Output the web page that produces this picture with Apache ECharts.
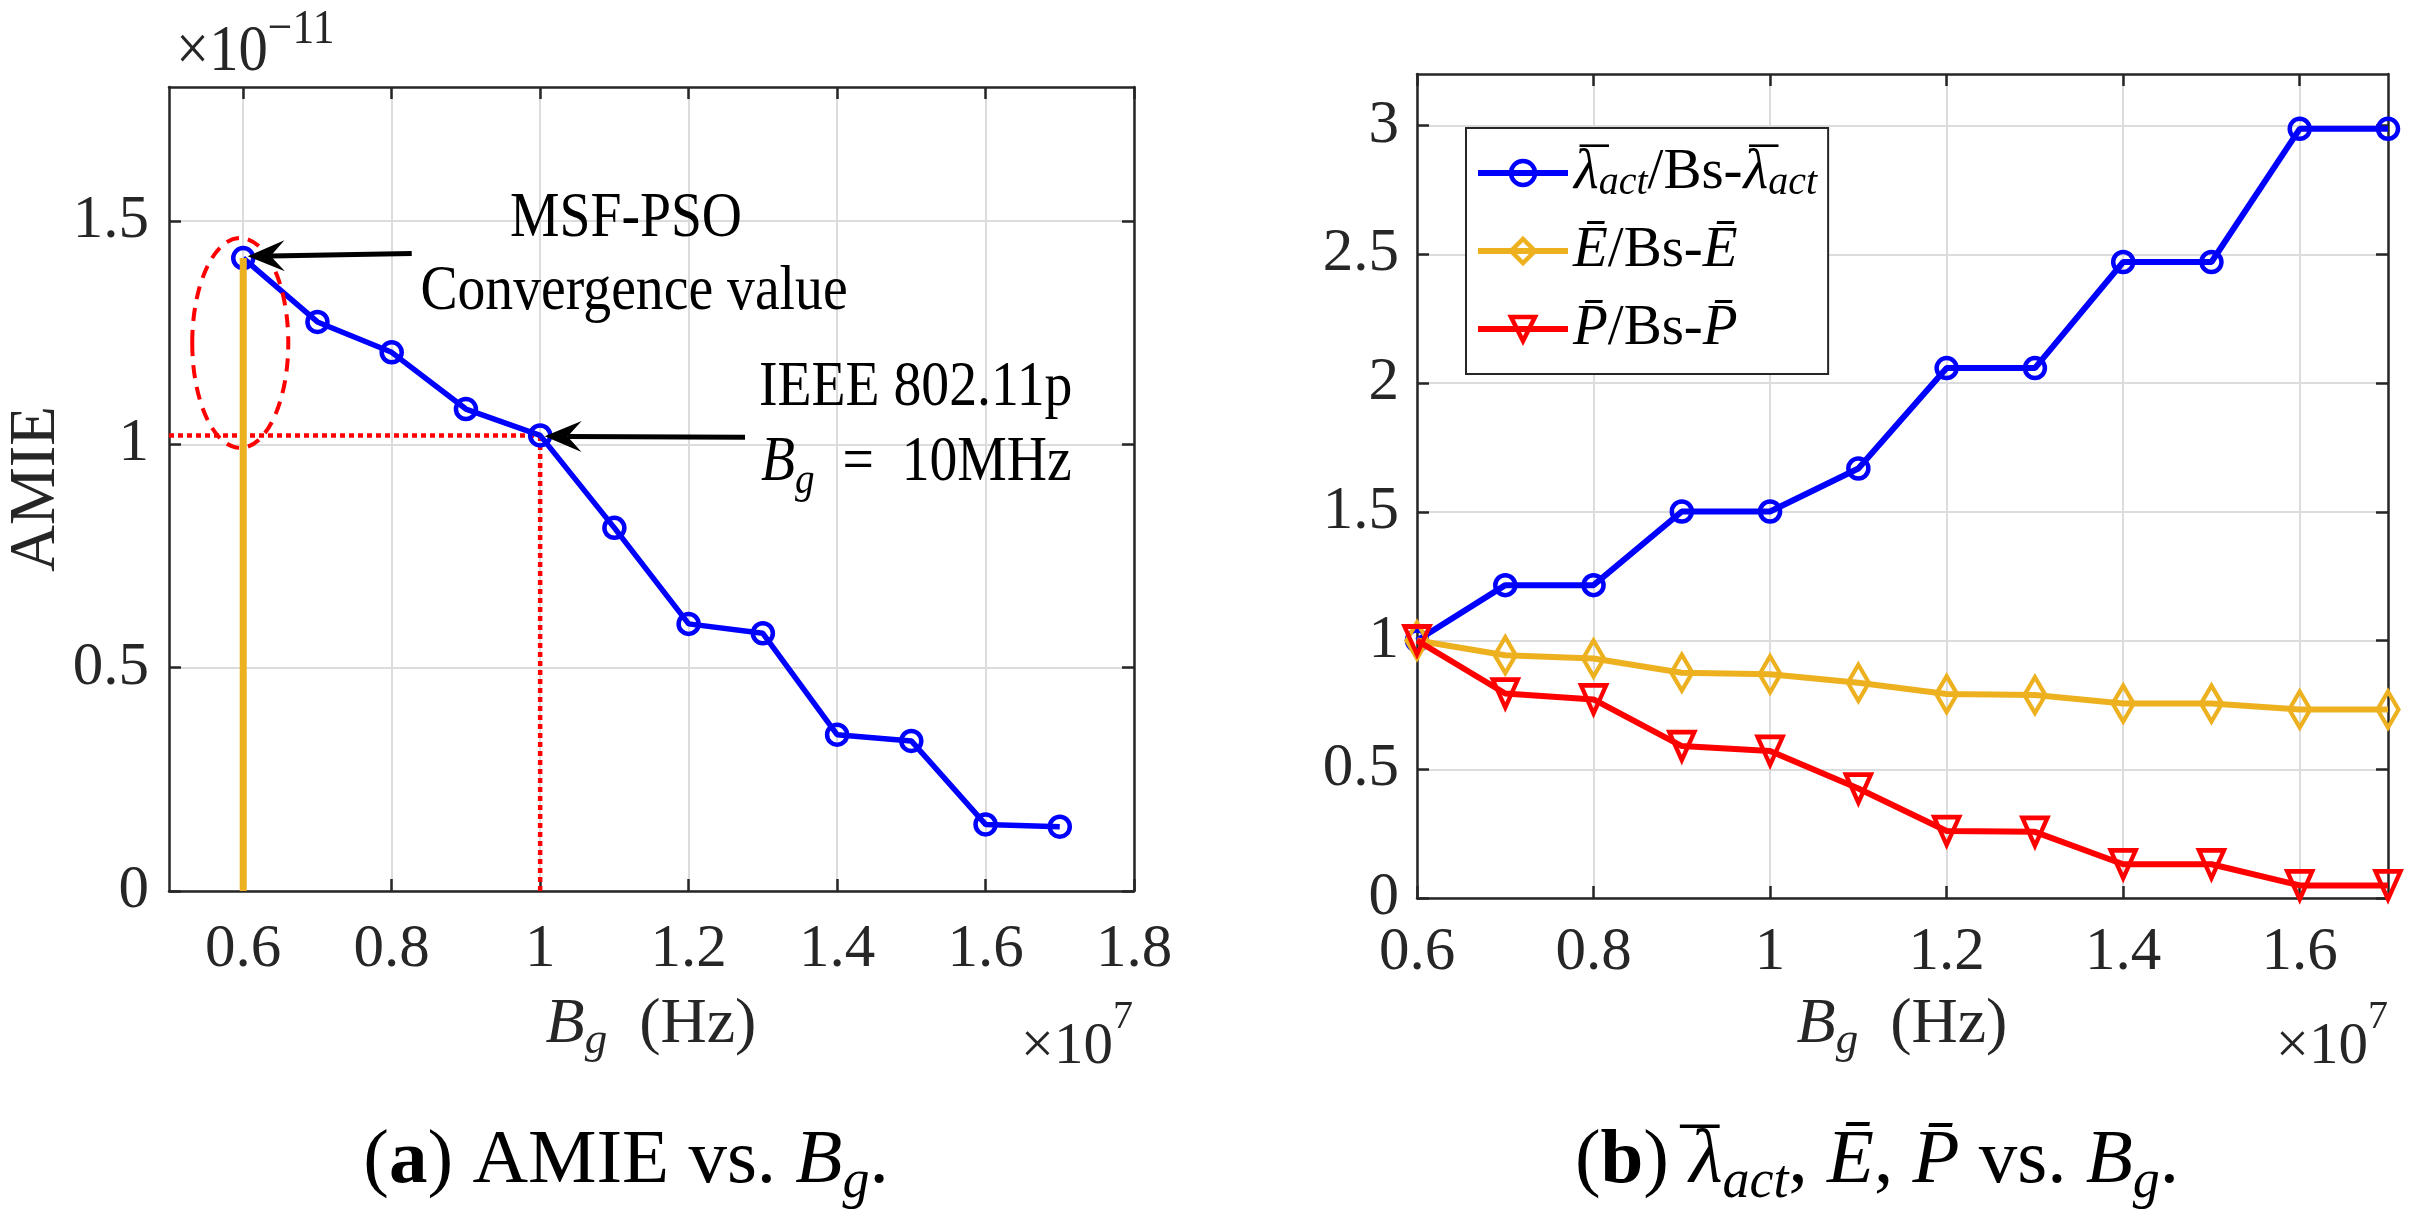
<!DOCTYPE html>
<html><head><meta charset="utf-8">
<script src="https://cdn.jsdelivr.net/npm/echarts@6/dist/echarts.min.js"></script>
<style>html,body{margin:0;padding:0;background:#fff}#c{width:2416px;height:1227px}</style>
</head><body><div id="c"></div>
<script>
// ---------- data ----------
const bandwidth   = [0.6, 0.7, 0.8, 0.9, 1.0, 1.1, 1.2, 1.3, 1.4, 1.5, 1.6, 1.7];   // x 1e7 Hz
const amie        = [1.417, 1.274, 1.206, 1.079, 1.020, 0.813, 0.598, 0.577, 0.350, 0.336, 0.149, 0.144]; // x 1e-11
const lambdaRatio = [1.000, 1.215, 1.215, 1.501, 1.501, 1.668, 2.058, 2.058, 2.470, 2.470, 2.987, 2.987];
const energyRatio = [1.000, 0.943, 0.930, 0.875, 0.869, 0.836, 0.792, 0.788, 0.755, 0.755, 0.732, 0.732];
const powerRatio  = [1.000, 0.794, 0.771, 0.590, 0.571, 0.425, 0.260, 0.257, 0.131, 0.131, 0.049, 0.049];
const xTicksA = [0.6, 0.8, 1.0, 1.2, 1.4, 1.6, 1.8];
const yTicksA = [0, 0.5, 1.0, 1.5];
const xTicksB = [0.6, 0.8, 1.0, 1.2, 1.4, 1.6];
const yTicksB = [0, 0.5, 1.0, 1.5, 2.0, 2.5, 3.0];
const ieeePoint = [1.0, 1.02];          // IEEE 802.11p reference (Bg = 10 MHz)
const msfBandwidth = 0.6;               // MSF-PSO convergence bandwidth
const arrowMsf  = [[0.827, 1.427], [0.606, 1.421]];  // tail, tip (data units)
const arrowIeee = [[1.276, 1.016], [1.006, 1.018]];
const ellipseCenter = [0.596, 1.227];
const ellipseRadii  = [0.0647, 0.235];
const seriesNames = ['\u03BB\u0304act/Bs-\u03BB\u0304act', 'E\u0304/Bs-E\u0304', 'P\u0304/Bs-P\u0304'];

// ---------- styles ----------
const serif = '"Liberation Serif", "Times New Roman", Times, serif';
const axisColor = '#262626';
const gridColor = '#dcdcdc';
const fmt = v => String(Math.round(v * 10) / 10);
const zip = (xs, ys) => xs.map((x, i) => [x, ys[i]]);

function axisDef(grid, min, max, ticks, pos, labels, margin) {
  return {
    type: 'value', gridIndex: grid, min, max, position: pos,
    axisLine: { show: true, onZero: false, lineStyle: { color: axisColor, width: 2.5 } },
    axisTick: { show: true, inside: true, length: 12, customValues: ticks, lineStyle: { color: axisColor, width: 2.5 } },
    axisLabel: { show: labels, customValues: ticks, formatter: fmt, fontFamily: serif, fontSize: 61, color: axisColor, margin },
    splitLine: { show: labels, lineStyle: { color: gridColor, width: 2 } }
  };
}

const option = {
  animation: false,
  backgroundColor: '#fff',
  textStyle: { fontFamily: serif },
  grid: [
    { left: 169, top: 87, width: 965, height: 804, containLabel: false, outerBoundsMode: 'none' },
    { left: 1417, top: 74, width: 971, height: 824, containLabel: false, outerBoundsMode: 'none' }
  ],
  xAxis: [
    axisDef(0, 0.5, 1.8, xTicksA, 'bottom', true, 28),
    axisDef(0, 0.5, 1.8, xTicksA, 'top', false, 8),
    axisDef(1, 0.6, 1.7, xTicksB, 'bottom', true, 24),
    axisDef(1, 0.6, 1.7, xTicksB, 'top', false, 8)
  ],
  yAxis: [
    axisDef(0, 0, 1.8, yTicksA, 'left', true, 20),
    axisDef(0, 0, 1.8, yTicksA, 'right', false, 8),
    axisDef(1, 0, 3.2, yTicksB, 'left', true, 18),
    axisDef(1, 0, 3.2, yTicksB, 'right', false, 8)
  ],
  legend: {
    show: true, orient: 'vertical', left: 1466, top: 128,
    padding: [15, 11, 15, 9], itemGap: 18, itemWidth: 90, itemHeight: 30,
    backgroundColor: '#fff', borderColor: axisColor, borderWidth: 2, borderRadius: 0,
    selectedMode: false, data: seriesNames,
    itemStyle: { borderWidth: 4.5 }, lineStyle: { width: 6 },
    formatter: function (name) {
      if (name === seriesNames[0]) return '{mac|\u00AF}{mi|\u03BB}{sb|act}{rm|/Bs-}{mac|\u00AF}{mi|\u03BB}{sb|act}';
      if (name === seriesNames[1]) return '{mi|E\u0304}{rm|/Bs-}{mi|E\u0304}';
      return '{mi|P\u0304}{rm|/Bs-}{mi|P\u0304}';
    },
    textStyle: {
      fontFamily: serif, fontSize: 57, color: '#000', lineHeight: 60,
      rich: {
        mi: { fontFamily: serif, fontStyle: 'italic', fontSize: 57, lineHeight: 60, color: '#000' },
        mac: { fontFamily: serif, fontSize: 57, lineHeight: 60, width: 1, padding: [0, -7, 0, 7], color: '#000' },
        sb: { fontFamily: serif, fontStyle: 'italic', fontSize: 40, lineHeight: 60, verticalAlign: 'bottom', color: '#000' },
        rm: { fontFamily: serif, fontSize: 57, lineHeight: 60, color: '#000' }
      }
    }
  },
  series: [
    { type: 'line', name: 'AMIE', xAxisIndex: 0, yAxisIndex: 0, data: zip(bandwidth, amie),
      symbol: 'circle', symbolSize: 20, silent: true, z: 5,
      lineStyle: { color: '#0000FF', width: 5.5 },
      itemStyle: { color: 'rgba(0,0,0,0)', borderColor: '#0000FF', borderWidth: 4.5 } },
    { type: 'line', name: 'ref-h', xAxisIndex: 0, yAxisIndex: 0,
      data: [[0.5, ieeePoint[1]], ieeePoint], symbol: 'none', silent: true, z: 3,
      lineStyle: { color: '#FF0000', width: 4.5, type: [5, 4] } },
    { type: 'line', name: 'ref-v', xAxisIndex: 0, yAxisIndex: 0,
      data: [[ieeePoint[0], 0], ieeePoint], symbol: 'none', silent: true, z: 3,
      lineStyle: { color: '#FF0000', width: 4.5, type: [5, 4] } },
    { type: 'line', name: 'msf', xAxisIndex: 0, yAxisIndex: 0,
      data: [[msfBandwidth, 0], [msfBandwidth, amie[0]]], symbol: 'none', silent: true, z: 6,
      lineStyle: { color: '#EDB120', width: 7 } },
    { type: 'line', name: seriesNames[0], xAxisIndex: 2, yAxisIndex: 2, data: zip(bandwidth, lambdaRatio),
      symbol: 'circle', symbolSize: 20, silent: true, z: 5, clip: false,
      lineStyle: { color: '#0000FF', width: 6 },
      itemStyle: { color: 'rgba(0,0,0,0)', borderColor: '#0000FF', borderWidth: 4.5 } },
    { type: 'line', name: seriesNames[1], xAxisIndex: 2, yAxisIndex: 2, data: zip(bandwidth, energyRatio),
      symbol: 'diamond', symbolSize: [21, 36], silent: true, z: 6, clip: false,
      lineStyle: { color: '#EDB120', width: 6 },
      itemStyle: { color: 'rgba(0,0,0,0)', borderColor: '#EDB120', borderWidth: 4.5 } },
    { type: 'line', name: seriesNames[2], xAxisIndex: 2, yAxisIndex: 2, data: zip(bandwidth, powerRatio),
      symbol: 'triangle', symbolRotate: 180, symbolSize: [25, 28], silent: true, z: 7, clip: false,
      lineStyle: { color: '#FF0000', width: 6 },
      itemStyle: { color: 'rgba(0,0,0,0)', borderColor: '#FF0000', borderWidth: 4.5 } }
  ]
};

const chart = echarts.init(document.getElementById('c'), null, { renderer: 'canvas' });
chart.setOption(option);

// ---------- annotations (positioned through the chart's own scales) ----------
const px = p => chart.convertToPixel({ xAxisIndex: 0, yAxisIndex: 0 }, p);

function arrow(tail, tip) {
  const a = px(tail), b = px(tip);
  const dx = b[0] - a[0], dy = b[1] - a[1], len = Math.hypot(dx, dy);
  const ux = dx / len, uy = dy / len, nx = -uy, ny = ux;
  const L = 37, W = 15.5, N = 0.62 * L;
  const back = [b[0] - ux * L, b[1] - uy * L], notch = [b[0] - ux * N, b[1] - uy * N];
  return [
    { type: 'line', z: 50, silent: true, shape: { x1: a[0], y1: a[1], x2: notch[0], y2: notch[1] },
      style: { stroke: '#000', lineWidth: 5 } },
    { type: 'polygon', z: 51, silent: true,
      shape: { points: [b, [back[0] + nx * W, back[1] + ny * W], notch, [back[0] - nx * W, back[1] - ny * W]] },
      style: { fill: '#000' } }
  ];
}

function richSet(fs, sub, lh) {
  const sh = Math.round(fs * 0.14);
  return {
    i: { fontFamily: serif, fontStyle: 'italic', fontSize: fs, lineHeight: lh },
    s: { fontFamily: serif, fontStyle: 'italic', fontSize: sub, lineHeight: lh, verticalAlign: 'bottom' },
    p: { fontFamily: serif, fontSize: sub, lineHeight: lh, verticalAlign: 'top' },
    b: { fontFamily: serif, fontWeight: 'bold', fontSize: fs, lineHeight: lh },
    m: { fontFamily: serif, fontSize: fs, lineHeight: lh, width: 1, padding: [0, -sh, 0, sh] },
    n: { fontFamily: serif, fontSize: fs, lineHeight: lh }
  };
}
function txt(x, y, text, fs, align, color, sub, lh, opts) {
  opts = opts || {};
  const st = { text, fontFamily: serif, fontSize: fs, fill: color,
    align, verticalAlign: 'middle', textAlign: align, textVerticalAlign: 'middle',
    rich: richSet(fs, sub || Math.round(fs * 0.7), lh || Math.round(fs * 1.2)) };
  return { type: 'text', x, y, z: 60, silent: true, rotation: opts.rotation || 0,
    scaleX: opts.sx || 1, style: st };
}

const c0 = px(ellipseCenter);
const cx1 = px([ellipseCenter[0] + ellipseRadii[0], ellipseCenter[1]]);
const cy1 = px([ellipseCenter[0], ellipseCenter[1] + ellipseRadii[1]]);
const SX = 0.87;

const graphics = [
  { type: 'ellipse', z: 40, silent: true,
    shape: { cx: c0[0], cy: c0[1], rx: Math.abs(cx1[0] - c0[0]), ry: Math.abs(c0[1] - cy1[1]) },
    style: { fill: 'none', stroke: '#FF0000', lineWidth: 4, lineDash: [13, 9] } },
  ...arrow(arrowMsf[0], arrowMsf[1]),
  ...arrow(arrowIeee[0], arrowIeee[1]),
  txt(626, 219, '{n|MSF-PSO}', 64, 'center', '#000', 0, 0, { sx: SX }),
  txt(634, 292, '{n|Convergence value}', 64, 'center', '#000', 0, 0, { sx: SX }),
  txt(759, 388, '{n|IEEE 802.11p}', 64, 'left', '#000', 0, 0, { sx: SX }),
  txt(761, 463, '{i|B}{s|g}{n|\u2002=\u200210MHz}', 64, 'left', '#000', 45, 82, { sx: SX }),
  txt(37, 489, '{n|AMIE}', 65, 'center', axisColor, 44, 70, { rotation: Math.PI / 2 }),
  txt(651, 1025, '{i|B}{s|g}{n|\u2002(Hz)}', 64, 'center', axisColor, 45, 78),
  txt(1902, 1025, '{i|B}{s|g}{n|\u2002(Hz)}', 64, 'center', axisColor, 45, 78),
  txt(1133, 1047, '{n|\u00D710}{p|7}', 59, 'right', axisColor, 40, 100),
  txt(2388, 1047, '{n|\u00D710}{p|7}', 59, 'right', axisColor, 40, 100),
  txt(176, 53, '{n|\u00D710}{p|\u221211}', 66, 'left', axisColor, 49, 94, { sx: 0.89 }),
  txt(626, 1162, '{n|(}{b|a}{n|) AMIE vs. }{i|B}{s|g}{n|.}', 77, 'center', '#000', 54, 96),
  txt(1877, 1162, '{n|(}{b|b}{n|) }{m|\u00AF}{i|\u03BB}{s|act}{n|, }{i|E\u0304}{n|, }{i|P\u0304}{n| vs. }{i|B}{s|g}{n|.}', 77, 'center', '#000', 54, 96)
];
chart.setOption({ graphic: graphics });
</script></body></html>
